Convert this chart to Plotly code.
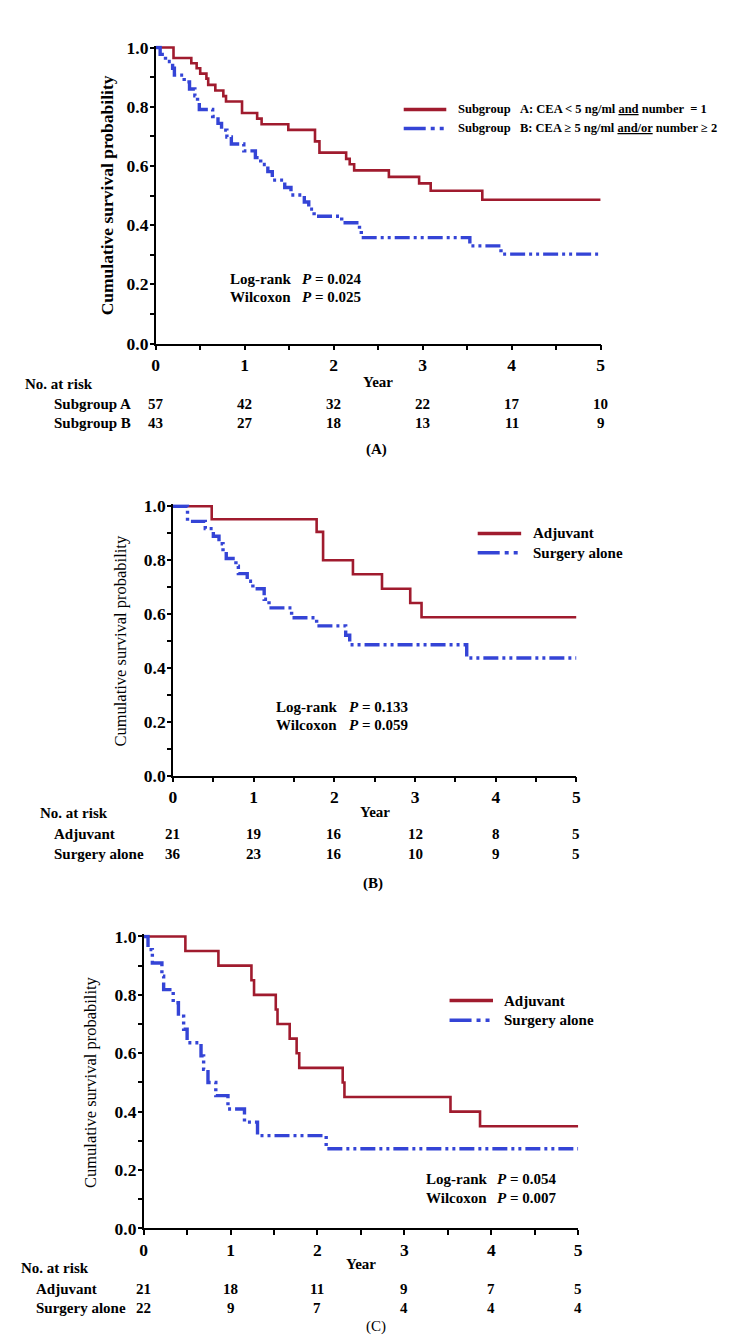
import plotly.graph_objects as go

W, H = 731, 1337
FONT = "Liberation Serif, 'Times New Roman', Times, serif"
RED = "#A01B2E"
BLUE = "#3444D6"
CURVE_DASH = "15px,4px,3px,4px,3px,4px"
LEG_DASH = "22px,5px,4px,5px,4px"

years = [0, 1, 2, 3, 4, 5]

# ---------------- Panel A data ----------------
a_red_t = [0, 0.20, 0.40, 0.46, 0.50, 0.57, 0.59, 0.67, 0.76, 0.79, 0.97, 1.14, 1.19,
           1.49, 1.79, 1.84, 2.14, 2.18, 2.23, 2.62, 2.96, 3.09, 3.67, 5.0]
a_red_s = [1.0, 0.965, 0.947, 0.93, 0.912, 0.895, 0.874, 0.855, 0.836, 0.818, 0.779, 0.76, 0.741,
           0.722, 0.683, 0.645, 0.624, 0.606, 0.585, 0.563, 0.541, 0.516, 0.486, 0.486]
a_blue_t = [0, 0.05, 0.11, 0.19, 0.21, 0.32, 0.38, 0.44, 0.47, 0.49, 0.64, 0.70, 0.74, 0.80,
            0.85, 0.99, 1.12, 1.18, 1.26, 1.31, 1.45, 1.52, 1.67, 1.72, 1.78, 2.09, 2.29, 2.31,
            3.53, 3.88, 5.0]
a_blue_s = [1.0, 0.977, 0.953, 0.93, 0.907, 0.884, 0.86, 0.837, 0.814, 0.791, 0.767, 0.744, 0.721,
            0.698, 0.674, 0.651, 0.628, 0.605, 0.581, 0.552, 0.527, 0.502, 0.478, 0.454, 0.43,
            0.408, 0.383, 0.358, 0.33, 0.302, 0.302]
a_groups = ["Subgroup A", "Subgroup B"]
a_legend = ["Subgroup\u00a0\u00a0\u00a0A: CEA &lt; 5 ng/ml <u>and</u> number\u00a0\u00a0= 1",
            "Subgroup\u00a0\u00a0\u00a0B: CEA \u2265 5 ng/ml <u>and/or</u> number \u2265 2"]
a_risk_red = [57, 42, 32, 22, 17, 10]
a_risk_blue = [43, 27, 18, 13, 11, 9]
a_stats = ["0.024", "0.025"]

# ---------------- Panel B data ----------------
b_red_t = [0, 0.48, 1.78, 1.86, 2.23, 2.59, 2.94, 3.08, 5.0]
b_red_s = [1.0, 0.952, 0.905, 0.80, 0.748, 0.694, 0.641, 0.588, 0.588]
b_blue_t = [0, 0.18, 0.40, 0.50, 0.57, 0.62, 0.66, 0.78, 0.81, 0.92, 0.99, 1.13, 1.19,
            1.47, 1.78, 2.14, 2.19, 3.64, 5.0]
b_blue_s = [1.0, 0.944, 0.917, 0.889, 0.861, 0.833, 0.806, 0.778, 0.75, 0.722, 0.694, 0.655, 0.623,
            0.586, 0.556, 0.521, 0.486, 0.437, 0.437]
b_groups = ["Adjuvant", "Surgery alone"]
b_risk_red = [21, 19, 16, 12, 8, 5]
b_risk_blue = [36, 23, 16, 10, 9, 5]
b_stats = ["0.133", "0.059"]

# ---------------- Panel C data ----------------
c_red_t = [0, 0.48, 0.86, 1.24, 1.27, 1.52, 1.54, 1.68, 1.76, 1.79, 2.29, 2.31, 3.53, 3.87, 5.0]
c_red_s = [1.0, 0.95, 0.90, 0.85, 0.80, 0.75, 0.70, 0.65, 0.60, 0.55, 0.50, 0.45, 0.40, 0.35, 0.35]
c_blue_t = [0, 0.05, 0.10, 0.21, 0.23, 0.34, 0.40, 0.46, 0.50, 0.66, 0.69, 0.74, 0.83, 0.97,
            1.16, 1.31, 2.10, 5.0]
c_blue_s = [1.0, 0.955, 0.909, 0.864, 0.818, 0.773, 0.727, 0.682, 0.636, 0.591, 0.545, 0.50,
            0.455, 0.409, 0.364, 0.318, 0.273, 0.273]
c_groups = ["Adjuvant", "Surgery alone"]
c_risk_red = [21, 18, 11, 9, 7, 5]
c_risk_blue = [22, 9, 7, 4, 4, 4]
c_stats = ["0.054", "0.007"]

stat_names = ["Log-rank", "Wilcoxon"]
y_title = "Cumulative survival probability"


def fx(x):
    return x / W


def fy(y):
    return 1 - y / H


# layout geometry (pixels) for each panel
panels = [
    dict(red=(a_red_t, a_red_s), blue=(a_blue_t, a_blue_s), groups=a_groups,
         legend=a_legend, leg_size=12.5, risk=(a_risk_red, a_risk_blue), stats=a_stats,
         x0=145.5, x1=596, ytop=32, ybot=332, yt_x=96, yt_bold=True, yt_size=17.5,
         year_y=370.7, head=(11.7, 372.7), rows_x=42, rows_y=(393, 413),
         st_x=220, st_px=292.3, st_y=(266.7, 285),
         lg_x0=396.6, lg_x1=439.7, lg_tx=451, lg_y=(94.7, 114),
         label="(A)", lab_x=369.5, lab_y=439, lab_bold=True),
    dict(red=(b_red_t, b_red_s), blue=(b_blue_t, b_blue_s), groups=b_groups,
         legend=b_groups, leg_size=15, risk=(b_risk_red, b_risk_blue), stats=b_stats,
         x0=163, x1=571.5, ytop=497, ybot=770, yt_x=110, yt_bold=False, yt_size=16.5,
         year_y=806.7, head=(27, 808), rows_x=42, rows_y=(829.3, 849),
         st_x=266.6, st_px=340, st_y=(700.7, 719),
         lg_x0=471.5, lg_x1=515.5, lg_tx=526, lg_y=(524.5, 544),
         label="(B)", lab_x=365, lab_y=879, lab_bold=True),
    dict(red=(c_red_t, c_red_s), blue=(c_blue_t, c_blue_s), groups=c_groups,
         legend=c_groups, leg_size=15, risk=(c_risk_red, c_risk_blue), stats=c_stats,
         x0=133.3, x1=573.3, ytop=933, ybot=1229, yt_x=79.5, yt_bold=False, yt_size=16.5,
         year_y=1265, head=(8.4, 1269), rows_x=23.4, rows_y=(1290.7, 1310),
         st_x=417.7, st_px=490, st_y=(1179.3, 1198.3),
         lg_x0=443, lg_x1=487, lg_tx=497.5, lg_y=(998, 1018),
         label="(C)", lab_x=368.6, lab_y=1328, lab_bold=False),
]

fig = go.Figure()
annotations = []
shapes = []
layout_axes = {}
PAD = 2  # px of head-room above 1.0 so the line at S=1 is not clipped


def ann(text, x, y, size=15, bold=True, xanchor="left", xref="paper", angle=0):
    t = f"<b>{text}</b>" if bold else text
    annotations.append(dict(
        text=t, x=x, y=y, xref=xref, yref="paper", xanchor=xanchor, yanchor="middle",
        showarrow=False, textangle=angle, borderpad=0,
        font=dict(family=FONT, size=size, color="black")))


for i, p in enumerate(panels):
    n = "" if i == 0 else str(i + 1)
    xa, ya = "x" + n, "y" + n
    # curves
    fig.add_trace(go.Scatter(
        x=p["red"][0], y=p["red"][1], mode="lines", name=p["groups"][0],
        line=dict(color=RED, width=2.6, shape="hv"), xaxis=xa, yaxis=ya,
        showlegend=False, cliponaxis=False))
    fig.add_trace(go.Scatter(
        x=p["blue"][0], y=p["blue"][1], mode="lines", name=p["groups"][1],
        line=dict(color=BLUE, width=3.4, shape="hv", dash=CURVE_DASH), xaxis=xa, yaxis=ya,
        showlegend=False, cliponaxis=False))

    ppu = p["ybot"] - p["ytop"]
    common = dict(showline=True, linecolor="black", linewidth=1.5, showgrid=False,
                  zeroline=False, ticks="outside", tickwidth=1.5, tickcolor="black",
                  tickfont=dict(family=FONT, size=17.5, color="black", weight="bold"))
    layout_axes["xaxis" + n] = dict(
        common, domain=[fx(p["x0"]), fx(p["x1"])], range=[0, 5], dtick=1, tick0=0,
        ticklen=5, ticklabelstandoff=0, anchor=ya,
        minor=dict(dtick=0.5, ticks="outside", ticklen=5, tickwidth=1.5, tickcolor="black"))
    layout_axes["yaxis" + n] = dict(
        common, domain=[fy(p["ybot"]), fy(p["ytop"] - PAD)], range=[0, 1.0 + PAD / ppu],
        dtick=0.2, tick0=0,
        tickformat=".1f", ticklen=4, ticklabelstandoff=-2, anchor=xa,
        minor=dict(dtick=0.1, ticks="outside", ticklen=4, tickwidth=1.5, tickcolor="black"))

    # y title
    ann(y_title, fx(p["yt_x"]), fy((p["ytop"] + p["ybot"]) / 2), size=p["yt_size"],
        bold=p["yt_bold"], xanchor="center", angle=-90)
    # x title
    ann("Year", 2.5, fy(p["year_y"]), size=15, xanchor="center", xref=xa)
    # number at risk
    ann("No. at risk", fx(p["head"][0]), fy(p["head"][1]), size=15)
    for r in range(2):
        ann(p["groups"][r], fx(p["rows_x"]), fy(p["rows_y"][r]), size=15)
        for yr, v in zip(years, p["risk"][r]):
            ann(str(v), yr, fy(p["rows_y"][r]), size=15, xanchor="center", xref=xa)
    # statistics
    for r in range(2):
        ann(stat_names[r], fx(p["st_x"]), fy(p["st_y"][r]), size=15)
        ann(f"<i>P</i> = {p['stats'][r]}", fx(p["st_px"]), fy(p["st_y"][r]), size=15)
    # legend (manual)
    for r, (col, w, dash) in enumerate([(RED, 3.4, "solid"), (BLUE, 3.6, LEG_DASH)]):
        shapes.append(dict(type="line", xref="paper", yref="paper",
                           x0=fx(p["lg_x0"]), x1=fx(p["lg_x1"]),
                           y0=fy(p["lg_y"][r]), y1=fy(p["lg_y"][r]),
                           line=dict(color=col, width=w, dash=dash)))
        ann(p["legend"][r], fx(p["lg_tx"]), fy(p["lg_y"][r]), size=p["leg_size"])
    # panel label
    ann(p["label"], fx(p["lab_x"]), fy(p["lab_y"]), size=15, bold=p["lab_bold"],
        xanchor="center")

fig.update_layout(
    width=W, height=H, margin=dict(l=0, r=0, t=0, b=0),
    paper_bgcolor="white", plot_bgcolor="white", showlegend=False,
    annotations=annotations, shapes=shapes,
    font=dict(family=FONT, color="black"),
    **layout_axes)

fig.write_html("out.html")
